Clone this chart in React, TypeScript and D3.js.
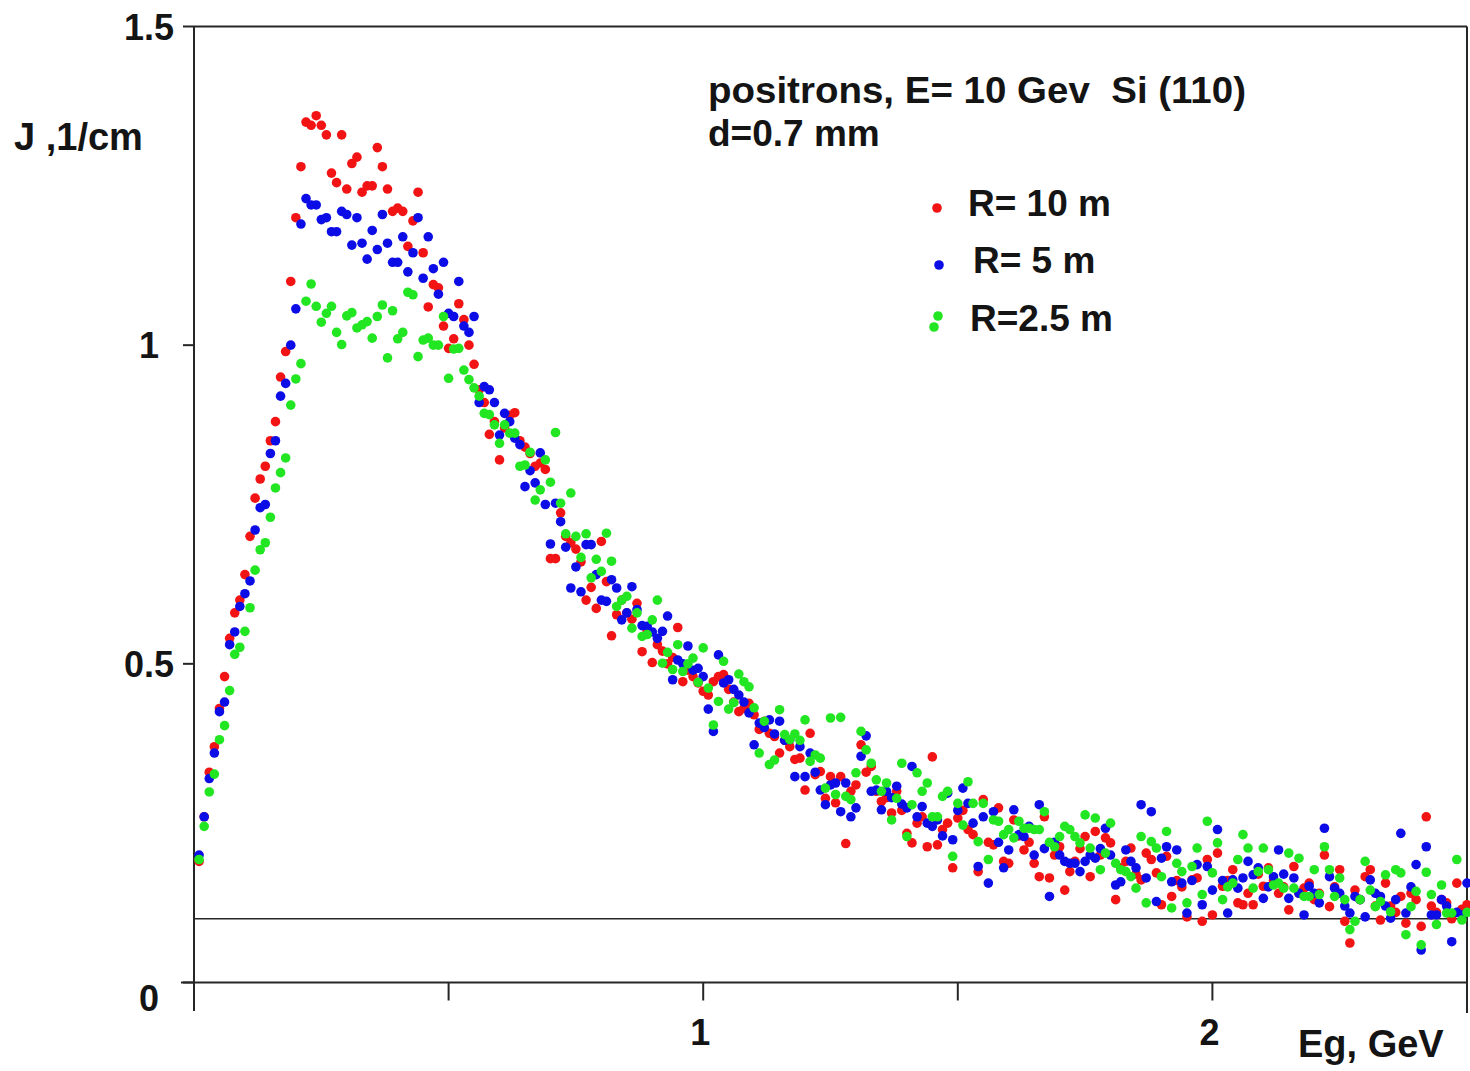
import React from "react";
import * as d3 from "d3";

// ---- data (photon energy grid: 0.01 .. 2.50 GeV, step 0.01) ----
const E_START = 0.01;
const E_STEP = 0.01;

const seriesNames = ["R= 10 m", "R= 5 m", "R=2.5 m"];

const redR10 = [
  0.19, 0.26, 0.33, 0.37, 0.43, 0.48, 0.54, 0.58, 0.60, 0.64,
  0.70, 0.76, 0.79, 0.81, 0.85, 0.88, 0.95, 0.99, 1.10, 1.20,
  1.28, 1.35, 1.345, 1.36, 1.345, 1.33, 1.27, 1.255, 1.33, 1.245,
  1.285, 1.295, 1.24, 1.25, 1.25, 1.31, 1.28, 1.245, 1.21, 1.215,
  1.21, 1.155, 1.195, 1.24, 1.145, 1.06, 1.095, 1.09, 1.03, 0.995,
  1.01, 1.065, 1.04, 1.00, 0.97, 0.93, 0.91, 0.86, 0.88, 0.82,
  0.87, 0.89, 0.894, 0.85, 0.84, 0.83, 0.81, 0.815, 0.805, 0.665,
  0.665, 0.737, 0.70, 0.69, 0.68, 0.66, 0.60, 0.62, 0.587, 0.692,
  0.629, 0.544, 0.577, 0.60, 0.58, 0.57, 0.595, 0.519, 0.55, 0.502,
  0.53, 0.52, 0.50, 0.51, 0.557, 0.472, 0.49, 0.48, 0.47, 0.457,
  0.451, 0.472, 0.48, 0.483, 0.46, 0.44, 0.425, 0.43, 0.438, 0.42,
  0.397, 0.41, 0.391, 0.386, 0.36, 0.38, 0.37, 0.35, 0.352, 0.302,
  0.391, 0.326, 0.331, 0.289, 0.323, 0.282, 0.323, 0.218, 0.30, 0.31,
  0.373, 0.33, 0.339, 0.30, 0.284, 0.29, 0.266, 0.30, 0.27, 0.234,
  0.219, 0.25, 0.26, 0.213, 0.354, 0.216, 0.24, 0.25, 0.18, 0.258,
  0.27, 0.24, 0.232, 0.174, 0.287, 0.22, 0.216, 0.274, 0.19, 0.187,
  0.255, 0.23, 0.208, 0.22, 0.187, 0.166, 0.26, 0.164, 0.20, 0.213,
  0.145, 0.174, 0.19, 0.21, 0.229, 0.166, 0.237, 0.20, 0.227, 0.219,
  0.13, 0.18, 0.19, 0.211, 0.17, 0.161, 0.203, 0.193, 0.172, 0.122,
  0.198, 0.135, 0.16, 0.15, 0.103, 0.161, 0.164, 0.096, 0.193, 0.106,
  0.203, 0.151, 0.16, 0.177, 0.125, 0.122, 0.14, 0.122, 0.17, 0.151,
  0.18, 0.16, 0.14, 0.15, 0.114, 0.182, 0.14, 0.148, 0.156, 0.13,
  0.14, 0.20, 0.119, 0.15, 0.177, 0.096, 0.062, 0.145, 0.13, 0.166,
  0.177, 0.12, 0.098, 0.156, 0.12, 0.11, 0.135, 0.093, 0.14, 0.13,
  0.088, 0.26, 0.12, 0.11, 0.13, 0.125, 0.10, 0.156, 0.115, 0.122,
];

const blueR5 = [
  0.20, 0.26, 0.32, 0.36, 0.425, 0.44, 0.53, 0.55, 0.59, 0.61,
  0.63, 0.71, 0.745, 0.75, 0.83, 0.85, 0.92, 0.94, 1.00, 1.057,
  1.19, 1.23, 1.22, 1.22, 1.197, 1.20, 1.178, 1.178, 1.21, 1.205,
  1.157, 1.20, 1.16, 1.135, 1.18, 1.15, 1.205, 1.16, 1.13, 1.13,
  1.17, 1.115, 1.145, 1.20, 1.105, 1.17, 1.12, 1.08, 1.13, 1.05,
  1.045, 1.10, 1.03, 1.02, 1.045, 0.91, 0.935, 0.93, 0.91, 0.859,
  0.893, 0.88, 0.854, 0.844, 0.778, 0.803, 0.784, 0.831, 0.75, 0.688,
  0.752, 0.723, 0.683, 0.619, 0.652, 0.613, 0.687, 0.687, 0.64, 0.60,
  0.598, 0.632, 0.619, 0.569, 0.58, 0.621, 0.585, 0.56, 0.559, 0.55,
  0.54, 0.551, 0.575, 0.475, 0.506, 0.50, 0.528, 0.49, 0.493, 0.48,
  0.429, 0.394, 0.514, 0.47, 0.475, 0.46, 0.451, 0.44, 0.423, 0.373,
  0.407, 0.40, 0.412, 0.39, 0.41, 0.38, 0.381, 0.323, 0.37, 0.323,
  0.36, 0.33, 0.302, 0.279, 0.31, 0.313, 0.268, 0.313, 0.26, 0.274,
  0.355, 0.387, 0.30, 0.302, 0.271, 0.30, 0.29, 0.308, 0.28, 0.274,
  0.339, 0.26, 0.276, 0.25, 0.245, 0.255, 0.23, 0.297, 0.224, 0.27,
  0.305, 0.281, 0.25, 0.182, 0.26, 0.156, 0.268, 0.22, 0.18, 0.208,
  0.271, 0.232, 0.229, 0.245, 0.20, 0.279, 0.21, 0.135, 0.22, 0.20,
  0.19, 0.187, 0.187, 0.174, 0.19, 0.20, 0.195, 0.21, 0.242, 0.20,
  0.153, 0.158, 0.208, 0.19, 0.18, 0.279, 0.164, 0.268, 0.127, 0.195,
  0.213, 0.158, 0.208, 0.156, 0.109, 0.16, 0.185, 0.122, 0.182, 0.145,
  0.24, 0.16, 0.109, 0.161, 0.148, 0.164, 0.19, 0.169, 0.18, 0.132,
  0.15, 0.166, 0.208, 0.17, 0.132, 0.164, 0.14, 0.106, 0.151, 0.14,
  0.125, 0.242, 0.166, 0.148, 0.14, 0.12, 0.109, 0.135, 0.13, 0.103,
  0.161, 0.14, 0.135, 0.12, 0.101, 0.13, 0.234, 0.109, 0.15, 0.185,
  0.051, 0.213, 0.106, 0.106, 0.13, 0.12, 0.064, 0.11, 0.106, 0.156,
];

const greenR25 = [
  0.193, 0.245, 0.299, 0.327, 0.381, 0.403, 0.458, 0.515, 0.526, 0.551,
  0.588, 0.647, 0.679, 0.69, 0.73, 0.776, 0.80, 0.823, 0.906, 0.947,
  0.971, 1.069, 1.096, 1.061, 1.036, 1.05, 1.061, 1.02, 1.001, 1.046,
  1.051, 1.027, 1.032, 1.037, 1.011, 1.045, 1.063, 0.98, 1.054, 1.01,
  1.02, 1.083, 1.079, 0.982, 1.008, 1.011, 1.0, 1.0, 1.045, 0.948,
  0.994, 0.995, 0.961, 0.946, 0.933, 0.92, 0.893, 0.891, 0.875, 0.846,
  0.875, 0.862, 0.862, 0.81, 0.812, 0.832, 0.757, 0.773, 0.82, 0.785,
  0.863, 0.752, 0.704, 0.768, 0.70, 0.667, 0.704, 0.635, 0.664, 0.645,
  0.705, 0.661, 0.59, 0.60, 0.606, 0.556, 0.58, 0.543, 0.546, 0.569,
  0.60, 0.501, 0.518, 0.491, 0.53, 0.488, 0.50, 0.509, 0.471, 0.525,
  0.462, 0.404, 0.441, 0.504, 0.429, 0.439, 0.484, 0.472, 0.464, 0.431,
  0.36, 0.41, 0.342, 0.349, 0.428, 0.389, 0.381, 0.39, 0.38, 0.412,
  0.347, 0.357, 0.352, 0.305, 0.415, 0.295, 0.416, 0.292, 0.287, 0.329,
  0.394, 0.365, 0.344, 0.318, 0.30, 0.313, 0.255, 0.289, 0.344, 0.229,
  0.279, 0.329, 0.30, 0.313, 0.26, 0.26, 0.292, 0.30, 0.198, 0.281,
  0.247, 0.315, 0.281, 0.221, 0.281, 0.193, 0.255, 0.253, 0.232, 0.24,
  0.227, 0.253, 0.242, 0.242, 0.24, 0.24, 0.268, 0.22, 0.213, 0.229,
  0.245, 0.24, 0.229, 0.219, 0.263, 0.211, 0.258, 0.177, 0.203, 0.25,
  0.187, 0.177, 0.174, 0.166, 0.148, 0.229, 0.125, 0.221, 0.211, 0.166,
  0.237, 0.117, 0.187, 0.174, 0.125, 0.182, 0.211, 0.138, 0.253, 0.172,
  0.219, 0.13, 0.15, 0.156, 0.193, 0.232, 0.211, 0.148, 0.174, 0.211,
  0.177, 0.153, 0.156, 0.148, 0.203, 0.148, 0.195, 0.135, 0.135, 0.177,
  0.138, 0.213, 0.177, 0.135, 0.164, 0.13, 0.083, 0.096, 0.13, 0.19,
  0.145, 0.119, 0.127, 0.169, 0.111, 0.177, 0.172, 0.075, 0.119, 0.143,
  0.059, 0.173, 0.138, 0.091, 0.153, 0.109, 0.109, 0.193, 0.098, 0.11,
];

const yTicks = [0, 0.5, 1, 1.5];
const yTickLabels = ["0", "0.5", "1", "1.5"];
const xTicks = [0.5, 1, 1.5, 2];
const xTickLabels = ["", "1", "", "2"];
const referenceLevel = 0.1;

const titleLine1 = "positrons, E= 10 Gev\u00a0\u00a0Si (110)";
const titleLine2 = "d=0.7 mm";
const yAxisTitle = "J ,1/cm";
const xAxisTitle = "Eg, GeV";

// ---- styling ----
const COLORS = ["#f21414", "#0c0ce6", "#22e622"];
const FONT = "'Liberation Sans', Arial, sans-serif";
const TEXT = "#141414";
const AXIS = "#262626";
const DOT_R = 4.8;

export default function App() {
  const W = 1470;
  const H = 1071;
  const x = d3.scaleLinear().domain([0, 2.5]).range([194, 1467]);
  const y = d3.scaleLinear().domain([0, 1.5]).range([982.5, 26.5]);

  const energies = d3.range(redR10.length).map((i) => +(E_START + i * E_STEP).toFixed(2));
  const series = [redR10, blueR5, greenR25];

  const x0 = x(0);
  const x1 = x(2.5);
  const yTop = y(1.5);
  const yBot = y(0);

  return (
    <svg
      width={W}
      height={H}
      style={{ position: "absolute", left: 0, top: 0, background: "#fff" }}
      fontFamily={FONT}
    >
      <rect x={0} y={0} width={W} height={H} fill="#fff" />

      {/* frame */}
      <line x1={x0} x2={x1} y1={yTop} y2={yTop} stroke={AXIS} strokeWidth={2} />
      <line x1={x1} x2={x1} y1={yTop} y2={1013} stroke={AXIS} strokeWidth={2} />
      <line x1={x0} x2={x0} y1={yTop} y2={1011} stroke={AXIS} strokeWidth={2} />
      <line x1={181} x2={x1} y1={yBot} y2={yBot} stroke={AXIS} strokeWidth={2} />

      {/* y ticks */}
      {yTicks.map((t, i) => (
        <g key={"yt" + i}>
          <line x1={x0 - 11} x2={x0} y1={y(t)} y2={y(t)} stroke={AXIS} strokeWidth={2} />
          <text
            x={149}
            y={y(t) + (t === 0 ? 28 : 13)}
            textAnchor="middle"
            fontSize={36}
            fontWeight="bold"
            fill={TEXT}
          >
            {yTickLabels[i]}
          </text>
        </g>
      ))}

      {/* x ticks */}
      {xTicks.map((t, i) => (
        <g key={"xt" + i}>
          <line x1={x(t)} x2={x(t)} y1={yBot} y2={yBot + 18} stroke={AXIS} strokeWidth={2} />
          <text
            x={x(t) - 3}
            y={1045}
            textAnchor="middle"
            fontSize={36}
            fontWeight="bold"
            fill={TEXT}
          >
            {xTickLabels[i]}
          </text>
        </g>
      ))}

      {/* reference level */}
      <line
        x1={x0}
        x2={x1}
        y1={y(referenceLevel)}
        y2={y(referenceLevel)}
        stroke={AXIS}
        strokeWidth={1.6}
      />

      {/* points */}
      {series.map((vals, si) => (
        <g key={"s" + si} fill={COLORS[si]}>
          {vals.map((v, i) => (
            <circle key={i} cx={x(energies[i])} cy={y(v)} r={DOT_R} />
          ))}
        </g>
      ))}

      {/* axis titles */}
      <text x={14} y={150} fontSize={38} fontWeight="bold" fill={TEXT}>
        {yAxisTitle}
      </text>
      <text x={1298} y={1057} fontSize={38} fontWeight="bold" fill={TEXT}>
        {xAxisTitle}
      </text>

      {/* annotation */}
      <text
        x={708}
        y={103}
        fontSize={37}
        fontWeight="bold"
        fill={TEXT}
        textLength={538}
        lengthAdjust="spacingAndGlyphs"
      >
        {titleLine1}
      </text>
      <text x={708} y={146} fontSize={37} fontWeight="bold" fill={TEXT}>
        {titleLine2}
      </text>

      {/* legend */}
      <circle cx={937} cy={208} r={DOT_R} fill={COLORS[0]} />
      <text x={968} y={216} fontSize={37} fontWeight="bold" fill={TEXT}>
        {seriesNames[0]}
      </text>
      <circle cx={939} cy={265} r={DOT_R} fill={COLORS[1]} />
      <text x={973} y={273} fontSize={37} fontWeight="bold" fill={TEXT}>
        {seriesNames[1]}
      </text>
      <circle cx={938} cy={316} r={DOT_R} fill={COLORS[2]} />
      <circle cx={934} cy={327} r={DOT_R} fill={COLORS[2]} />
      <text x={970} y={331} fontSize={37} fontWeight="bold" fill={TEXT}>
        {seriesNames[2]}
      </text>
    </svg>
  );
}
